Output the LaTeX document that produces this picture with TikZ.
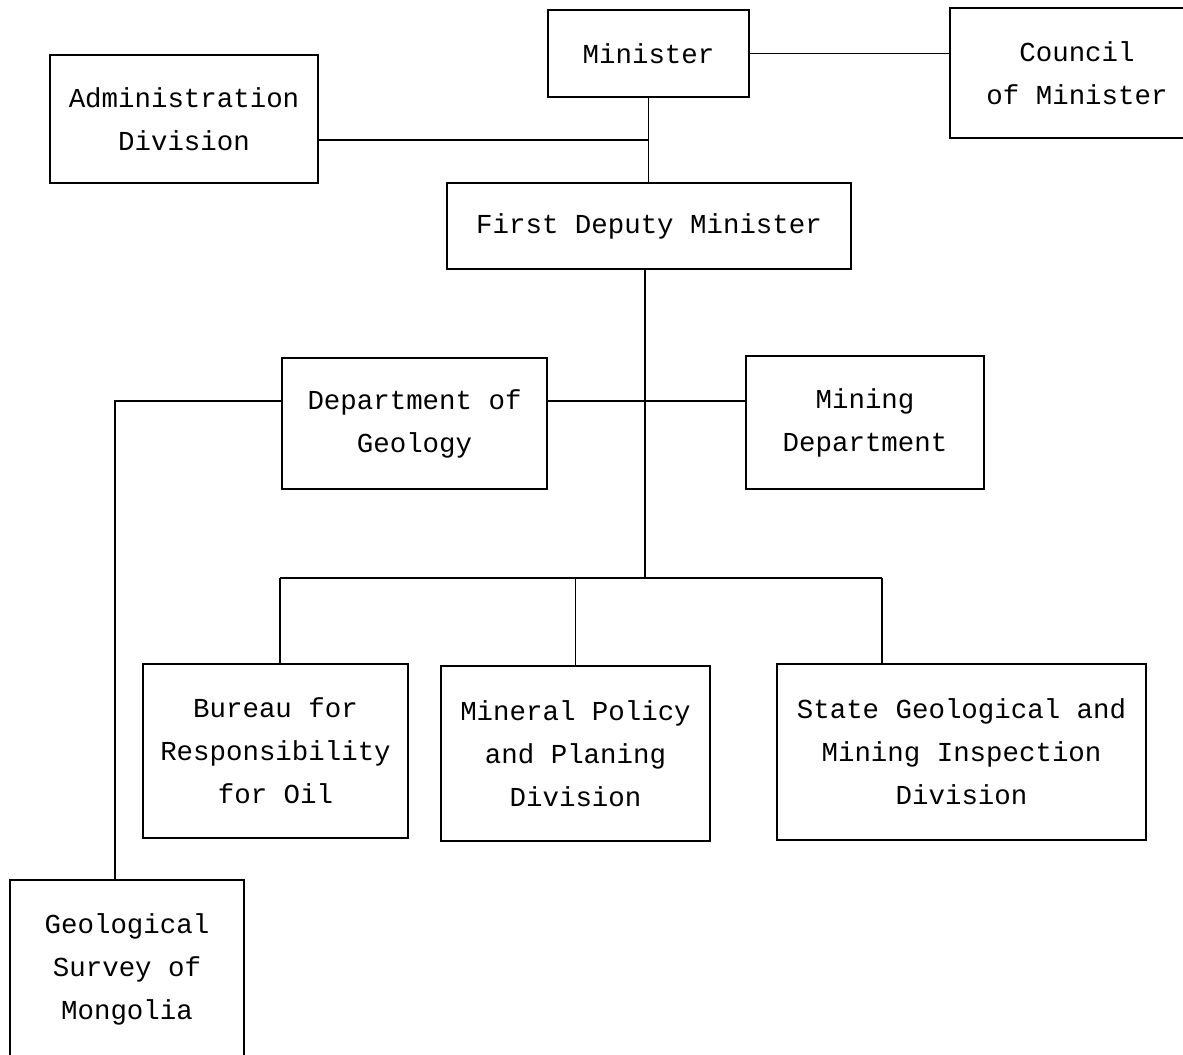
\documentclass[tikz,border=0pt]{standalone}
\usepackage{fontspec}
\setmonofont{Liberation Mono}
\usepackage{tikz}
\usetikzlibrary{calc,positioning}
\tikzset{every picture/.style={
  line width=0.5pt               % Thin scanned-looking lines.
  }
}

\begin{document}
\begin{tikzpicture}[
    x=0.01cm, y=-0.01cm,
    unit/.style={
      draw,
      align=center,
      inner sep=0pt,
      font=\ttfamily\fontsize{7.8}{12.2}\selectfont
    }]

    \useasboundingbox (0,0) rectangle (1183,1054);

    % Top level.
    \node[unit,minimum width=2.01cm,minimum height=0.87cm] (minister)
      at (648.5,53.5) {Minister};
    \node[unit,minimum width=2.54cm,minimum height=1.30cm] (council)
      at (1077,73) {Council\\of Minister};
    \node[unit,minimum width=2.68cm,minimum height=1.28cm] (admin)
      at (184,119) {Administration\\Division};
    \node[unit,minimum width=4.04cm,minimum height=0.86cm] (fdm)
      at (649,226) {First Deputy Minister};

    % Departments.
    \node[unit,minimum width=2.65cm,minimum height=1.31cm] (geology)
      at (414.5,423.5) {Department of\\Geology};
    \node[unit,minimum width=2.38cm,minimum height=1.33cm] (mining)
      at (865,422.5) {Mining\\Department};

    % Divisions.
    \node[unit,minimum width=2.65cm,minimum height=1.74cm] (bureau)
      at (275.5,751) {Bureau for\\Responsibility\\for Oil};
    \node[unit,minimum width=2.69cm,minimum height=1.75cm] (policy)
      at (575.5,753.5) {Mineral Policy\\and Planing\\Division};
    \node[unit,minimum width=3.69cm,minimum height=1.76cm] (inspect)
      at (961.5,752) {State Geological and\\Mining Inspection\\Division};
    \node[unit,minimum width=2.34cm,minimum height=1.78cm] (survey)
      at (127,969) {Geological\\Survey of\\Mongolia};

    % Junction points.
    \coordinate (j1) at (648,140);
    \coordinate (j2) at (645,578);
    \coordinate (j3) at (645,401);
    \coordinate (b1) at (280,578);
    \coordinate (b3) at (882,578);
    \coordinate (g1) at (115,401);

    % Connectors.
    \draw (minister.east) -- (minister.east -| council.west);
    \draw (minister.south) -- (minister.south |- fdm.north);
    \draw (admin.east |- j1) -- (j1);
    \draw (fdm.south -| j2) -- (j2);
    \draw (geology.east |- j3) -- (mining.west |- j3);
    \draw (b1) -- (b3);
    \draw (b1) -- (b1 |- bureau.north);
    \draw (policy.north |- b1) -- (policy.north);
    \draw (b3) -- (b3 |- inspect.north);
    \draw (geology.west |- g1) -- (g1) -- (g1 |- survey.north);

  \end{tikzpicture}
\end{document}
